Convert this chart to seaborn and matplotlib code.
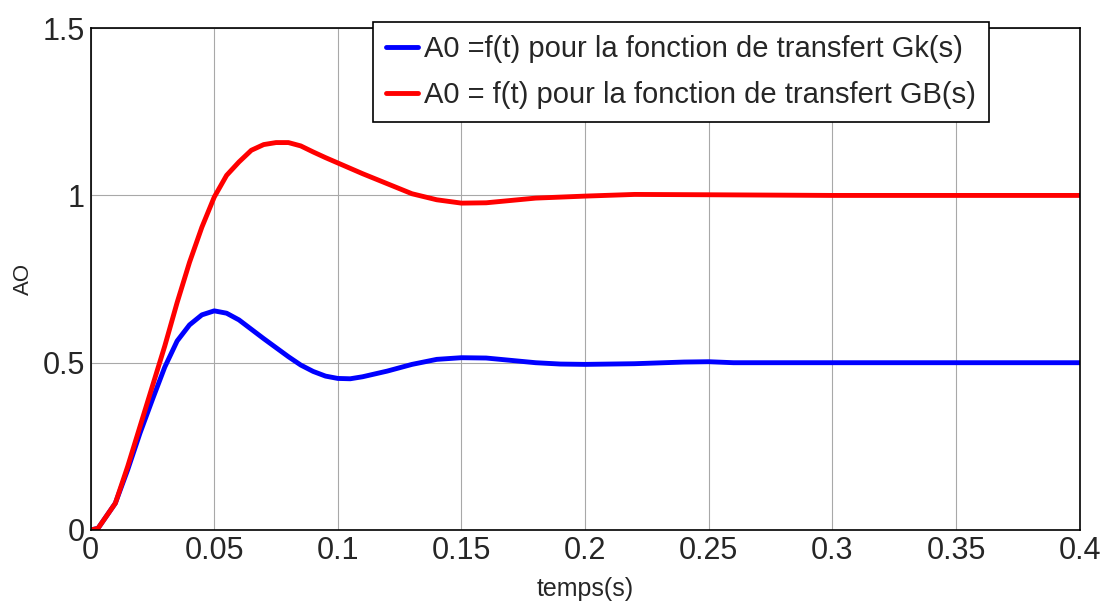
import matplotlib
matplotlib.use("Agg")
import matplotlib.pyplot as plt
import seaborn as sns
import pandas as pd

# courbes
t_gk = [0, 0.003, 0.01, 0.015, 0.02, 0.025, 0.03, 0.035, 0.04, 0.045, 0.05, 0.055, 0.06, 0.065,
        0.07, 0.075, 0.08, 0.085, 0.09, 0.095, 0.1, 0.105, 0.11, 0.12, 0.13, 0.14, 0.15, 0.16,
        0.17, 0.18, 0.19, 0.2, 0.22, 0.24, 0.25, 0.26, 0.3, 0.35, 0.4]
a0_gk = [0, 0.005, 0.08, 0.18, 0.29, 0.39, 0.487, 0.565, 0.613, 0.643, 0.655, 0.648, 0.628, 0.600,
         0.572, 0.545, 0.518, 0.493, 0.474, 0.46, 0.453, 0.452, 0.458, 0.475, 0.495, 0.51, 0.515, 0.514,
         0.507, 0.5, 0.496, 0.495, 0.497, 0.502, 0.503, 0.5, 0.5, 0.5, 0.5]

t_gb = [0, 0.003, 0.01, 0.015, 0.02, 0.025, 0.03, 0.035, 0.04, 0.045, 0.05, 0.055, 0.06, 0.065,
        0.07, 0.075, 0.08, 0.085, 0.09, 0.095, 0.1, 0.11, 0.12, 0.13, 0.14, 0.15, 0.16, 0.17,
        0.18, 0.2, 0.22, 0.25, 0.3, 0.35, 0.4]
a0_gb = [0, 0.005, 0.08, 0.19, 0.31, 0.43, 0.55, 0.68, 0.80, 0.905, 0.995, 1.06, 1.10, 1.135,
         1.152, 1.158, 1.158, 1.148, 1.13, 1.113, 1.097, 1.065, 1.035, 1.005, 0.987, 0.977, 0.978, 0.985,
         0.992, 0.998, 1.003, 1.002, 1.0, 1.0, 1.0]

lab_gk = "A0 =f(t) pour la fonction de transfert Gk(s)"
lab_gb = "A0 = f(t) pour la fonction de transfert GB(s)"

df = pd.concat([
    pd.DataFrame({"t": t_gk, "A0": a0_gk, "courbe": lab_gk}),
    pd.DataFrame({"t": t_gb, "A0": a0_gb, "courbe": lab_gb}),
])

sns.set_style("white")
plt.rcParams["font.family"] = ["Liberation Sans", "DejaVu Sans"]

fig, ax = plt.subplots(figsize=(11.05, 6.12), dpi=100)
fig.subplots_adjust(left=0.082, right=0.977, top=0.954, bottom=0.134)

sns.lineplot(data=df, x="t", y="A0", hue="courbe", palette=["#0000ff", "#ff0000"],
             linewidth=3.5, ax=ax, estimator=None, sort=False)

ax.set_xlim(0, 0.4)
ax.set_ylim(0, 1.5)
ax.set_xticks([0, 0.05, 0.1, 0.15, 0.2, 0.25, 0.3, 0.35, 0.4])
ax.set_xticklabels(["0", "0.05", "0.1", "0.15", "0.2", "0.25", "0.3", "0.35", "0.4"])
ax.set_yticks([0, 0.5, 1, 1.5])
ax.set_yticklabels(["0", "0.5", "1", "1.5"])
ax.grid(True, color="#a8a8a8", linewidth=0.8)
ax.tick_params(labelsize=22, direction="in", length=5, color="black", pad=4)
for s in ax.spines.values():
    s.set_color("black")
    s.set_linewidth(1.2)
ax.set_xlabel("temps(s)", fontsize=18, labelpad=8)
ax.set_ylabel("AO", fontsize=16, labelpad=6)

leg = ax.legend(loc="upper right", bbox_to_anchor=(0.908, 1.012), fontsize=21,
                frameon=True, fancybox=False, handlelength=1.1, handletextpad=0.2,
                borderpad=0.45, labelspacing=0.6, borderaxespad=0)
leg.get_frame().set_edgecolor("black")
leg.get_frame().set_linewidth(1.2)
leg.get_frame().set_alpha(1)

fig.savefig("out.png", dpi=100)
